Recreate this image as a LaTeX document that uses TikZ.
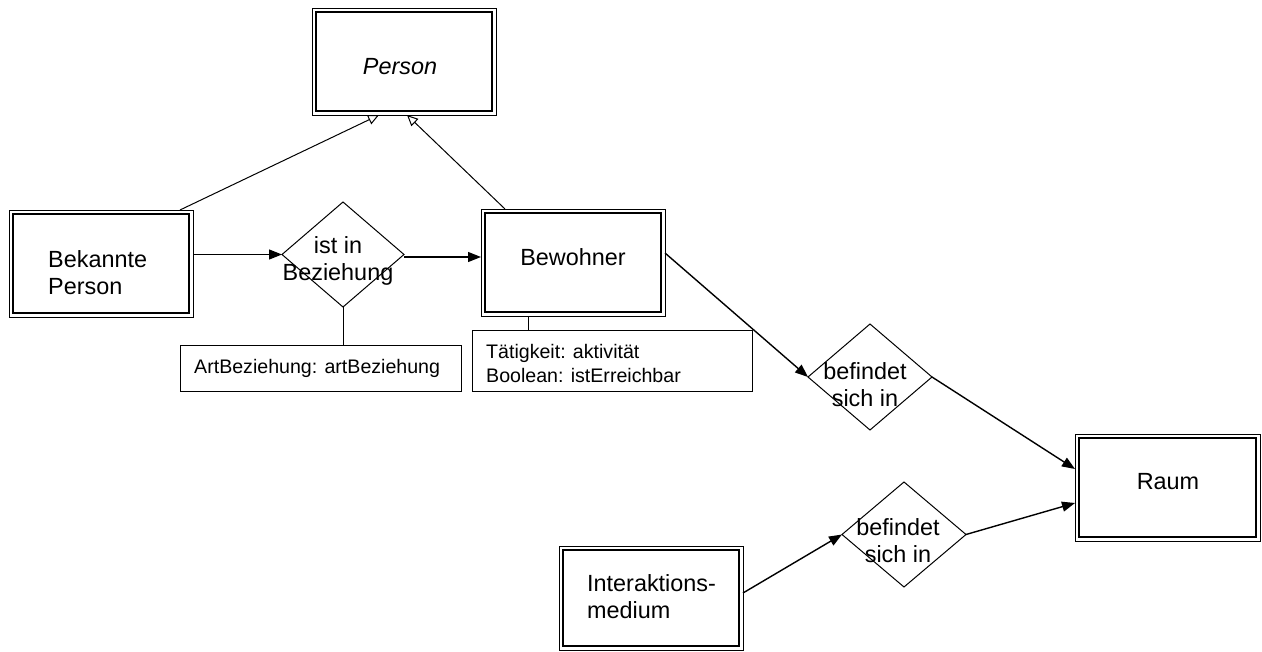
\documentclass[tikz,border=0pt]{standalone}
\usepackage{fontspec}
\setmainfont{Liberation Sans}
\usetikzlibrary{arrows.meta,shapes.geometric}
\begin{document}
\begin{tikzpicture}[x=1pt,y=-1pt,
  ent/.style={draw, line width=0.9pt, rectangle, inner sep=0pt, outer sep=0pt},
  dia/.style={draw, line width=1pt, diamond, inner sep=0pt, outer sep=0pt},
  attr/.style={draw, line width=1pt, rectangle, inner sep=0pt, outer sep=0pt},
  big/.style={font=\fontsize{23.4}{27}\selectfont, inner sep=0pt},
  small/.style={font=\fontsize{19.6}{23.5}\selectfont, inner sep=0pt, align=left, anchor=west},
  conn/.style={line width=1.4pt, -{Triangle[length=13pt,width=10pt]}},
  inh/.style={line width=1pt, -{Triangle[open,length=11pt,width=10pt,line width=1pt]}},
  link/.style={line width=1pt}
]
\useasboundingbox (0,0) rectangle (1262,652);
% entity boxes
\node[ent, minimum width=184pt, minimum height=107pt] (person) at (404,61.5) {};
\node[ent, minimum width=184pt, minimum height=107pt] (bek) at (101,263.5) {};
\node[ent, minimum width=184pt, minimum height=107pt] (bew) at (573,262.5) {};
\node[ent, minimum width=185pt, minimum height=107pt] (raum) at (1167.5,487.5) {};
\node[ent, minimum width=184pt, minimum height=104pt] (inter) at (651,598) {};
\foreach \n in {person,bek,bew,raum,inter}
  \draw[line width=1.7pt] ([shift={(3.7pt,3.7pt)}]\n.south west) rectangle ([shift={(-3.7pt,-3.7pt)}]\n.north east);
% relationship diamonds
\node[dia, minimum width=122pt, minimum height=105pt] (d1) at (343,254.5) {};
\node[dia, minimum width=124pt, minimum height=106pt] (d2) at (870,377) {};
\node[dia, minimum width=124pt, minimum height=105pt] (d3) at (904,534.5) {};
% attribute boxes
\node[attr, minimum width=281pt, minimum height=46pt] (a1) at (320.5,369) {};
\node[attr, minimum width=280pt, minimum height=61pt] (a2) at (612,361.5) {};
% texts
\node[big, font=\fontsize{23.4}{27}\selectfont\itshape] (tperson) at (400,67) {Person};
\node[big, align=left, anchor=west] (tbek) at (48,272.5) {Bekannte\\Person};
\node[big] (tbew) at (573,257) {Bewohner};
\node[big] (traum) at (1168,482) {Raum};
\node[big, align=left, anchor=west] (tinter) at (587,597) {Interaktions-\\medium};
\node[big, align=center] (td1) at (338,261) {ist in\\Beziehung};
\node[big, align=center] (td2) at (865,384.5) {befindet\\sich in};
\node[big, align=center] (td3) at (898,540.5) {befindet\\sich in};
\node[small] (ta1) at (194,368) {ArtBeziehung: artBeziehung};
\node[small] (ta2) at (486,363.5) {Tätigkeit: aktivität\\Boolean: istErreichbar};
% inheritance
\draw[inh] ([xshift=-13pt]bek.north east) -- ([xshift=-25pt]person.south);
\draw[inh] ([xshift=24pt]bew.north west) -- ([xshift=3pt]person.south);
% relationships
\draw[conn] (d1.west -| bek.east) -- (d1.west);
\draw[conn] ([yshift=-2.5pt]d1.east) -- ([yshift=-2.5pt]d1.east -| bew.west);
\draw[link] (d1.south) -- (d1.south |- a1.north);
\draw[link] ([xshift=-45pt]bew.south) -- ([xshift=-45pt]bew.south |- a2.north);
\draw[conn] ([yshift=9.5pt]bew.east) -- (d2.west);
\draw[conn] (d2.east) -- ([yshift=18.5pt]raum.west);
\draw[conn] ([yshift=5pt]inter.east) -- (d3.west);
\draw[conn] (d3.east) -- ([yshift=-15.5pt]raum.west);
\end{tikzpicture}
\end{document}
